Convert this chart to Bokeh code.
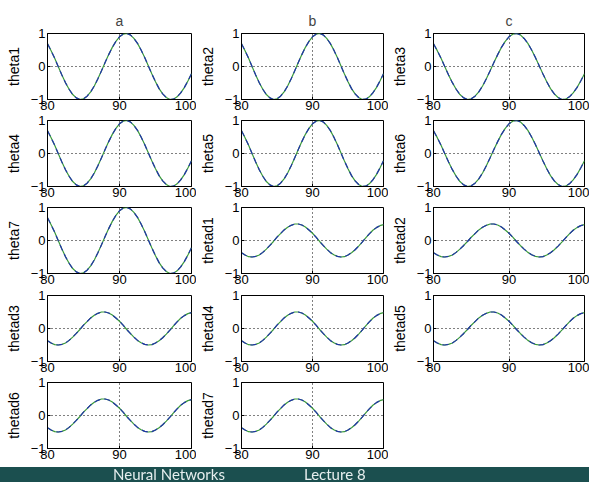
from bokeh.plotting import figure
from bokeh.models import FixedTicker, Range1d, Div
from bokeh.layouts import gridplot, column
from bokeh.embed import file_html
from bokeh.resources import INLINE

# time axis (s)
t = [80.0, 80.5, 81.0, 81.5, 82.0, 82.5, 83.0, 83.5, 84.0, 84.5,
     85.0, 85.5, 86.0, 86.5, 87.0, 87.5, 88.0, 88.5, 89.0, 89.5,
     90.0, 90.5, 91.0, 91.5, 92.0, 92.5, 93.0, 93.5, 94.0, 94.5,
     95.0, 95.5, 96.0, 96.5, 97.0, 97.5, 98.0, 98.5, 99.0, 99.5, 100.0]

# joint angles (all seven panels look identical)
theta = [0.69, 0.48, 0.25, -0.01, -0.26, -0.49, -0.69, -0.85, -0.95, -1.00,
         -0.98, -0.90, -0.77, -0.59, -0.37, -0.13, 0.12, 0.36, 0.58, 0.76,
         0.90, 0.98, 1.00, 0.96, 0.85, 0.70, 0.50, 0.27, 0.02, -0.23,
         -0.46, -0.67, -0.83, -0.94, -1.00, -0.99, -0.92, -0.80, -0.64, -0.44, -0.22]

# joint velocities
thetad = [-0.37, -0.44, -0.49, -0.50, -0.48, -0.44, -0.36, -0.26, -0.15, -0.03,
          0.10, 0.21, 0.32, 0.40, 0.46, 0.50, 0.50, 0.47, 0.41, 0.32,
          0.22, 0.10, -0.03, -0.15, -0.26, -0.36, -0.43, -0.48, -0.50, -0.49,
          -0.44, -0.37, -0.28, -0.17, -0.05, 0.08, 0.20, 0.31, 0.39, 0.45, 0.48]

column_titles = ["a", "b", "c"]
panel_labels = ["theta1", "theta2", "theta3", "theta4", "theta5", "theta6", "theta7",
                "thetad1", "thetad2", "thetad3", "thetad4", "thetad5", "thetad6", "thetad7"]
x_ticks = [80, 90, 100]
y_ticks = [-1, 0, 1]

BLUE = "#2233aa"
GREEN = "#3a9a3a"
FONT = "Liberation Sans"

tops = [33, 6, 6, 6, 6]
bottoms = [15, 15, 16, 15, 19]
widths = [196, 192, 201]
lefts = [47, 44, 44]


def make_panel(idx):
    r, c = divmod(idx, 3)
    label = panel_labels[idx]
    ys = thetad if label.startswith("thetad") else theta
    kw = dict(width=widths[c], height=tops[r] + 66 + bottoms[r],
              min_border_left=lefts[c], min_border_right=5,
              min_border_top=tops[r],
              min_border_bottom=bottoms[r],
              x_range=Range1d(80, 100), y_range=Range1d(-1, 1),
              output_backend="svg", toolbar_location=None)
    if r == 0:
        kw["title"] = column_titles[c]
    p = figure(**kw)
    if r == 0:
        p.title.align = "center"
        p.title.text_font = FONT
        p.title.text_font_size = "14px"
        p.title.text_font_style = "normal"
        p.title.standoff = 10
    p.outline_line_color = "black"
    p.outline_line_alpha = 1.0
    p.background_fill_color = "white"
    p.border_fill_color = "white"

    p.xaxis.ticker = FixedTicker(ticks=x_ticks)
    p.yaxis.ticker = FixedTicker(ticks=y_ticks)
    for ax in (p.xaxis[0], p.yaxis[0]):
        ax.major_tick_in = 3
        ax.major_tick_out = 0
        ax.minor_tick_line_color = None
        ax.axis_line_color = "black"
        ax.major_tick_line_color = "black"
        ax.major_label_text_font = FONT
        ax.major_label_text_font_size = "13px"
        ax.major_label_text_color = "black"
    p.xaxis.major_label_standoff = 1
    p.yaxis.major_label_standoff = 2
    p.yaxis.axis_label = label
    p.yaxis.axis_label_text_font = FONT
    p.yaxis.axis_label_text_font_size = "14px"
    p.yaxis.axis_label_text_font_style = "normal"
    p.yaxis.axis_label_text_color = "black"
    p.yaxis.axis_label_standoff = 6

    p.xgrid.ticker = FixedTicker(ticks=x_ticks)
    p.ygrid.ticker = FixedTicker(ticks=y_ticks)
    for g in (p.xgrid[0], p.ygrid[0]):
        g.grid_line_color = "black"
        g.grid_line_alpha = 1.0
        g.grid_line_dash = "1 3"
        g.grid_line_width = 1

    p.line(t, ys, line_color=GREEN, line_width=1.2)
    p.line(t, ys, line_color=BLUE, line_width=1.2, line_dash="6 4")
    return p


panels = [make_panel(i) for i in range(14)]
rows = [panels[i:i + 3] for i in range(0, 14, 3)]
rows[-1] = rows[-1] + [None]

grid = gridplot(rows, toolbar_location=None)

banner_html = (
    '<div style="position:relative;width:589px;height:15px;background:#1b4f4f;'
    'font-family:Lato;font-size:15px;line-height:15px;color:#e6eeee;">'
    '<span style="position:absolute;left:113px;top:0px;">Neural Networks</span>'
    '<span style="position:absolute;left:304px;top:0px;">Lecture 8</span>'
    '</div>'
)
banner = Div(text=banner_html, width=589, height=15,
             styles={"position": "fixed", "left": "0px", "top": "467px", "margin": "0px"})

layout = column(grid, banner, spacing=0)

open("out.html", "w").write(file_html(layout, INLINE))
